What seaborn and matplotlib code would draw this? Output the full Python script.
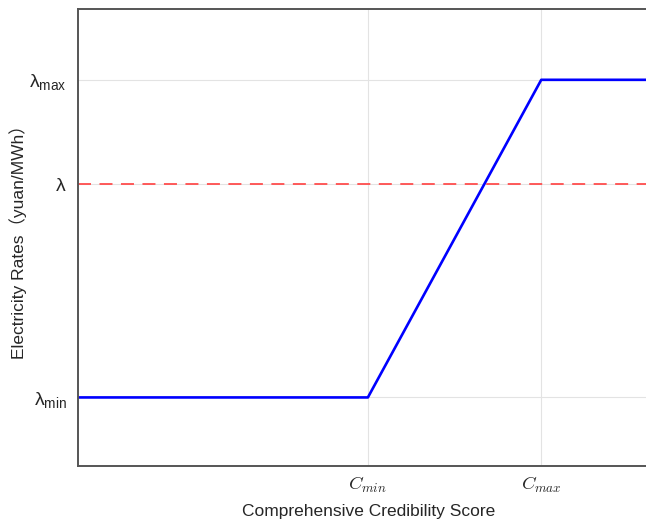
import numpy as np
import pandas as pd
import matplotlib
matplotlib.use('Agg')
import matplotlib.pyplot as plt
import seaborn as sns

# data
score = [0, 5.1, 8.15, 10.5]
rate = [1.5, 1.5, 8.45, 8.45]
lam = 6.17
x_ticks = [5.1, 8.15]
x_labels = [r'$C_{min}$', r'$C_{max}$']
y_ticks = [1.5, 6.17, 8.45]
y_labels = [r'$\mathregular{\lambda_{min}}$', r'$\mathregular{\lambda}$', r'$\mathregular{\lambda_{max}}$']

sns.set_style('white')
plt.rcParams['font.family'] = ['Liberation Sans', 'Noto Sans CJK SC', 'DejaVu Sans']
plt.rcParams['mathtext.fontset'] = 'custom'
plt.rcParams['mathtext.rm'] = 'Liberation Sans'
plt.rcParams['mathtext.it'] = 'Liberation Sans:italic'

df = pd.DataFrame({'score': score, 'rate': rate})

fig = plt.figure(figsize=(6.46, 5.25), dpi=100)
ax = fig.add_axes([0.1207, 0.1124, 0.8793 + 0.02, 0.8705])

ax.grid(True, color='#e3e3e3', linewidth=0.8)
ax.set_axisbelow(True)

sns.lineplot(data=df, x='score', y='rate', color='#0000ff', linewidth=1.9, ax=ax)
ax.axhline(lam, color='#ff4d4d', linestyle=(0, (7.2, 4.7)), linewidth=1.3)

ax.set_xlim(0, 10.22)
ax.set_ylim(0, 10)

ax.set_xticks(x_ticks)
ax.set_xticklabels(x_labels, fontsize=13.5)
for t in ax.get_xticklabels():
    t.set_math_fontfamily('cm')
ax.set_yticks(y_ticks)
ax.set_yticklabels(y_labels, fontsize=14)

ax.set_xlabel('Comprehensive Credibility Score', fontsize=12.5, labelpad=7)
ax.set_ylabel('Electricity Rates（yuan/MWh）', fontsize=12.5, labelpad=2)

for s in ax.spines.values():
    s.set_color('#555555')
    s.set_linewidth(1.4)
ax.tick_params(direction='in', length=4, width=1, color='#555555')
ax.tick_params(axis='y', pad=8)
ax.tick_params(axis='x', pad=6)

fig.savefig('out.png', dpi=100)
